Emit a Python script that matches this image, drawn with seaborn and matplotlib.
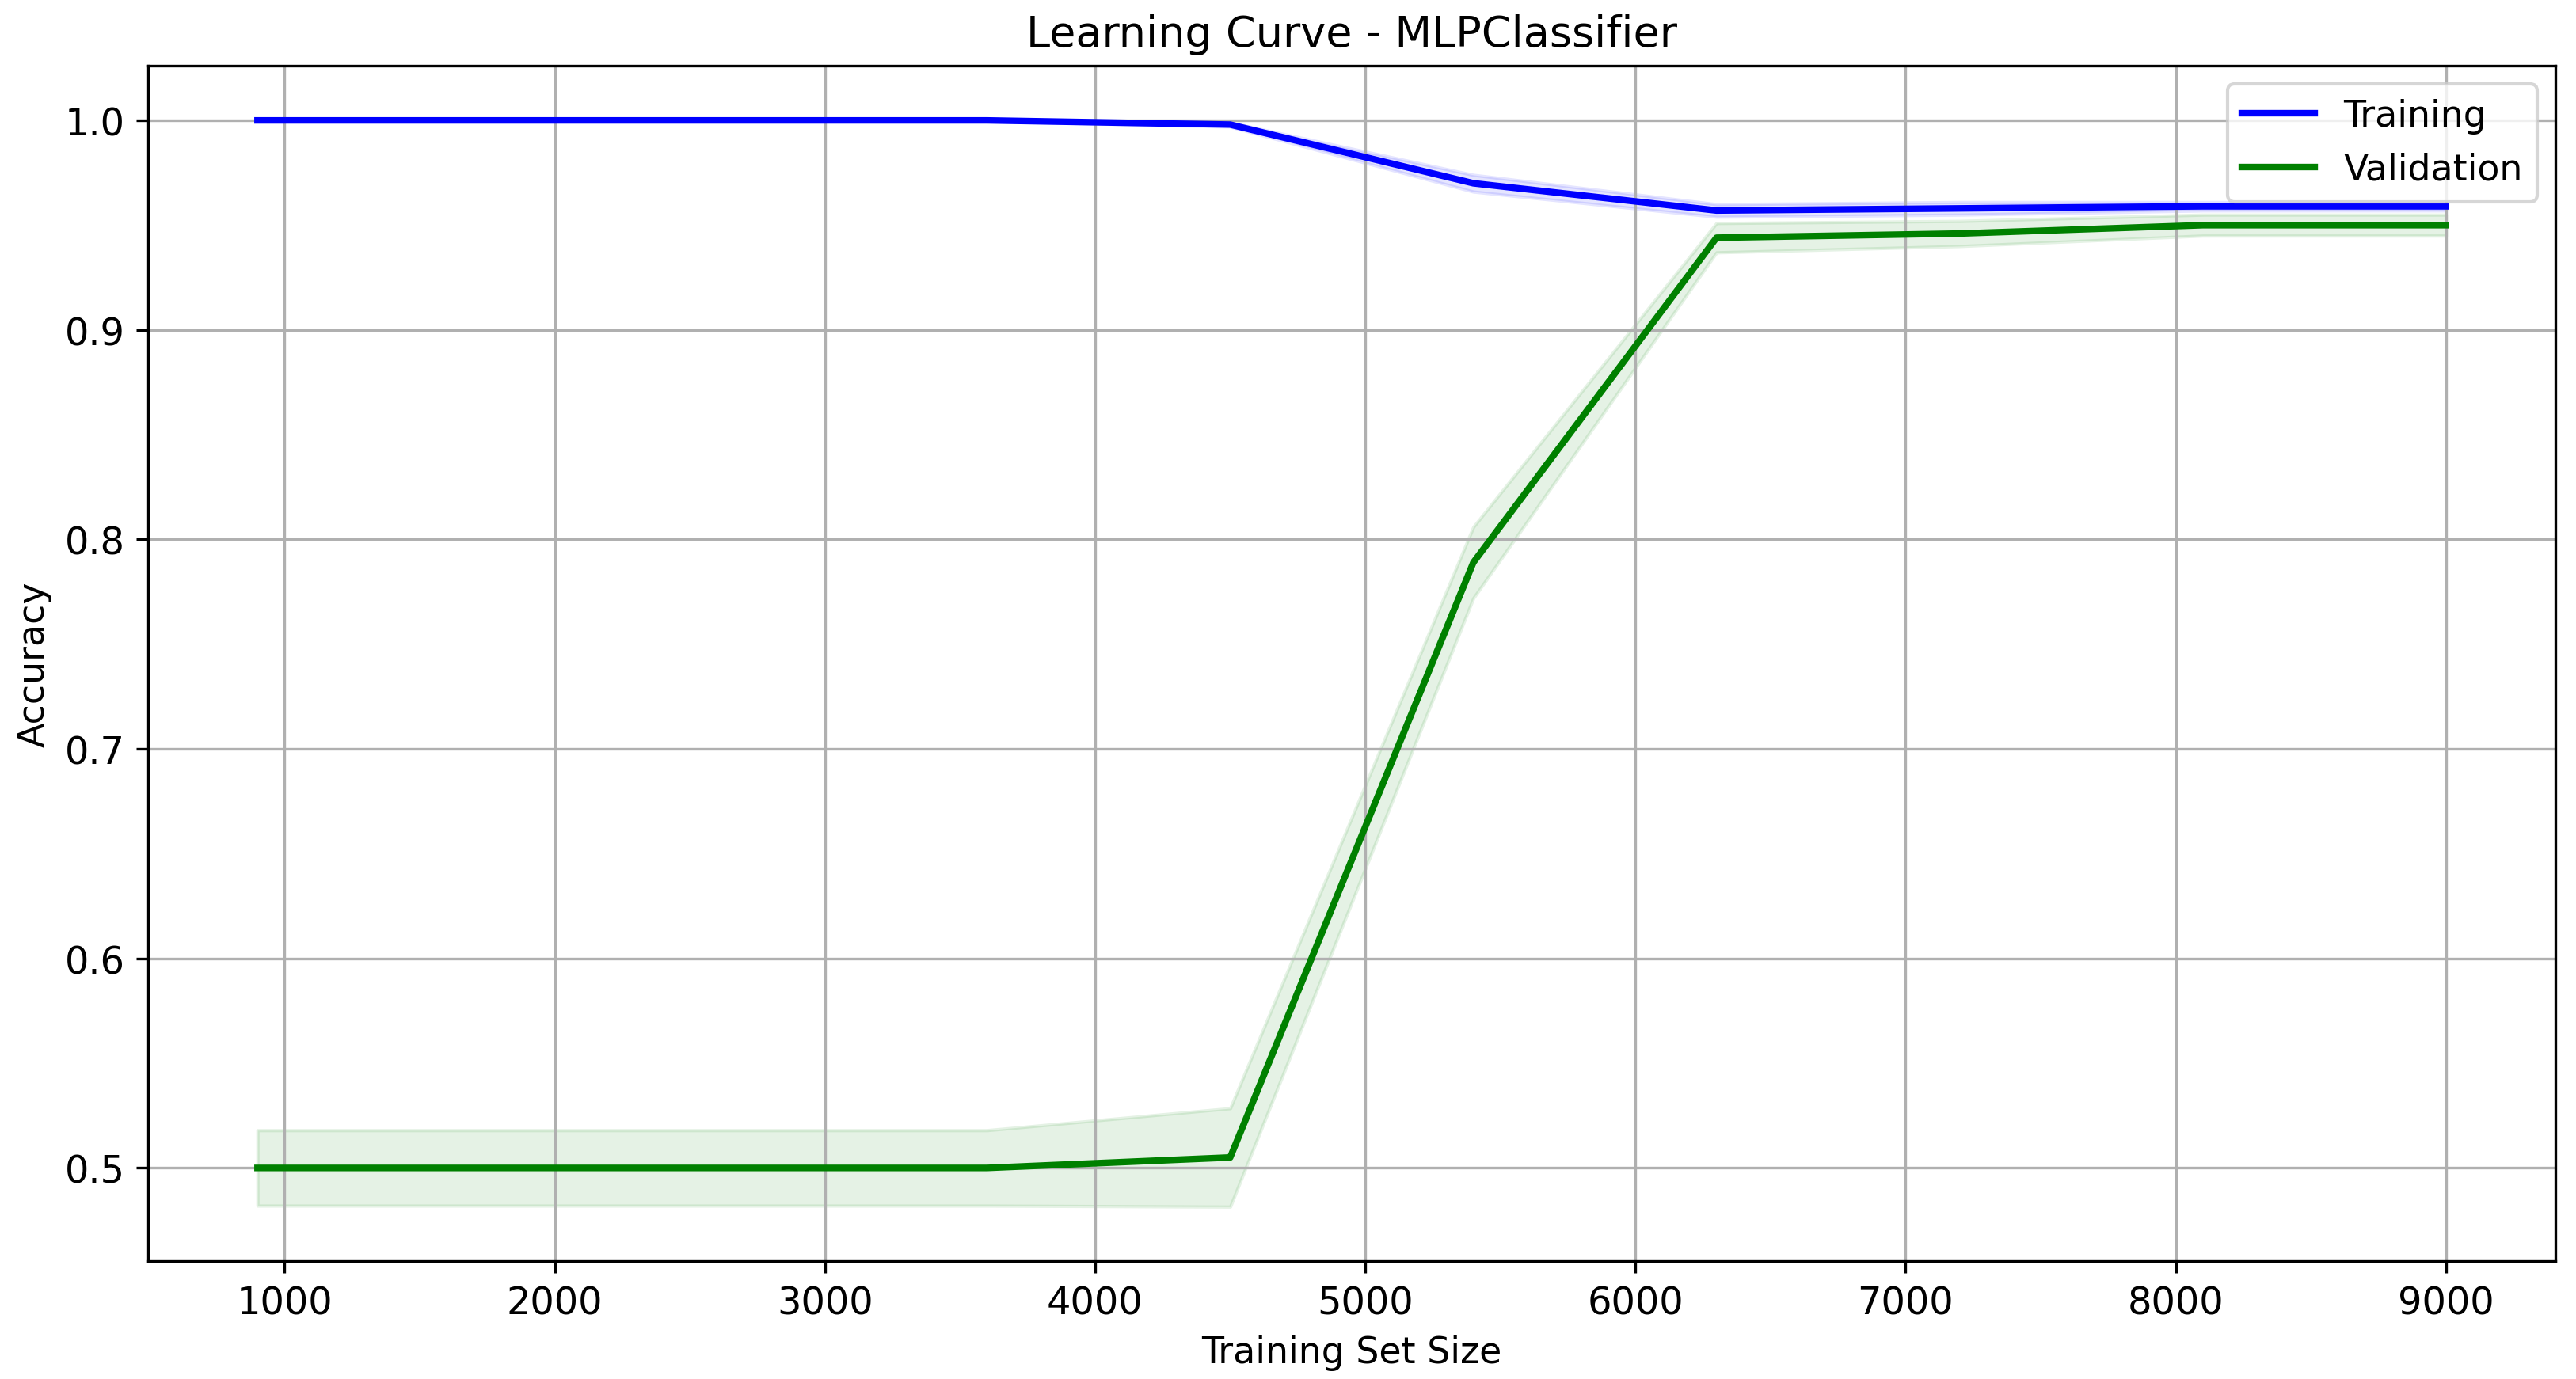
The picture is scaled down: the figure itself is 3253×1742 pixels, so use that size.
import numpy as np
import pandas as pd
import seaborn as sns
import matplotlib.pyplot as plt

# training set sizes
train_sizes = [900, 1800, 2700, 3600, 4500, 5400, 6300, 7200, 8100, 9000]

# mean / std of scores
train_mean = [1.000, 1.000, 1.000, 1.000, 0.998, 0.970, 0.957, 0.958, 0.959, 0.959]
train_std = [0.0003, 0.0003, 0.0003, 0.0003, 0.001, 0.004, 0.003, 0.003, 0.002, 0.002]
val_mean = [0.500, 0.500, 0.500, 0.500, 0.505, 0.789, 0.944, 0.946, 0.950, 0.950]
val_std = [0.018, 0.018, 0.018, 0.018, 0.0235, 0.017, 0.007, 0.006, 0.005, 0.005]

df = pd.concat([
    pd.DataFrame({'size': train_sizes, 'score': train_mean, 'std': train_std, 'set': 'Training'}),
    pd.DataFrame({'size': train_sizes, 'score': val_mean, 'std': val_std, 'set': 'Validation'}),
])
colors = {'Training': 'blue', 'Validation': 'green'}

fig, ax = plt.subplots(figsize=(3253 / 300, 1743 / 300), dpi=300)

sns.lineplot(data=df, x='size', y='score', hue='set', palette=colors, linewidth=2, ax=ax)
for name, grp in df.groupby('set'):
    ax.fill_between(grp['size'], grp['score'] - grp['std'], grp['score'] + grp['std'],
                    color=colors[name], alpha=0.1)

ax.set_title('Learning Curve - MLPClassifier', fontsize=13)
ax.set_xlabel('Training Set Size', fontsize=11)
ax.set_ylabel('Accuracy', fontsize=11)
ax.tick_params(labelsize=11.5)
ax.grid(True, color='#b0b0b0', linewidth=0.8)
ax.legend(loc='upper right', fontsize=11)

fig.subplots_adjust(left=0.0575, right=0.992, top=0.952, bottom=0.0855)
fig.savefig('out.png', dpi=300)
